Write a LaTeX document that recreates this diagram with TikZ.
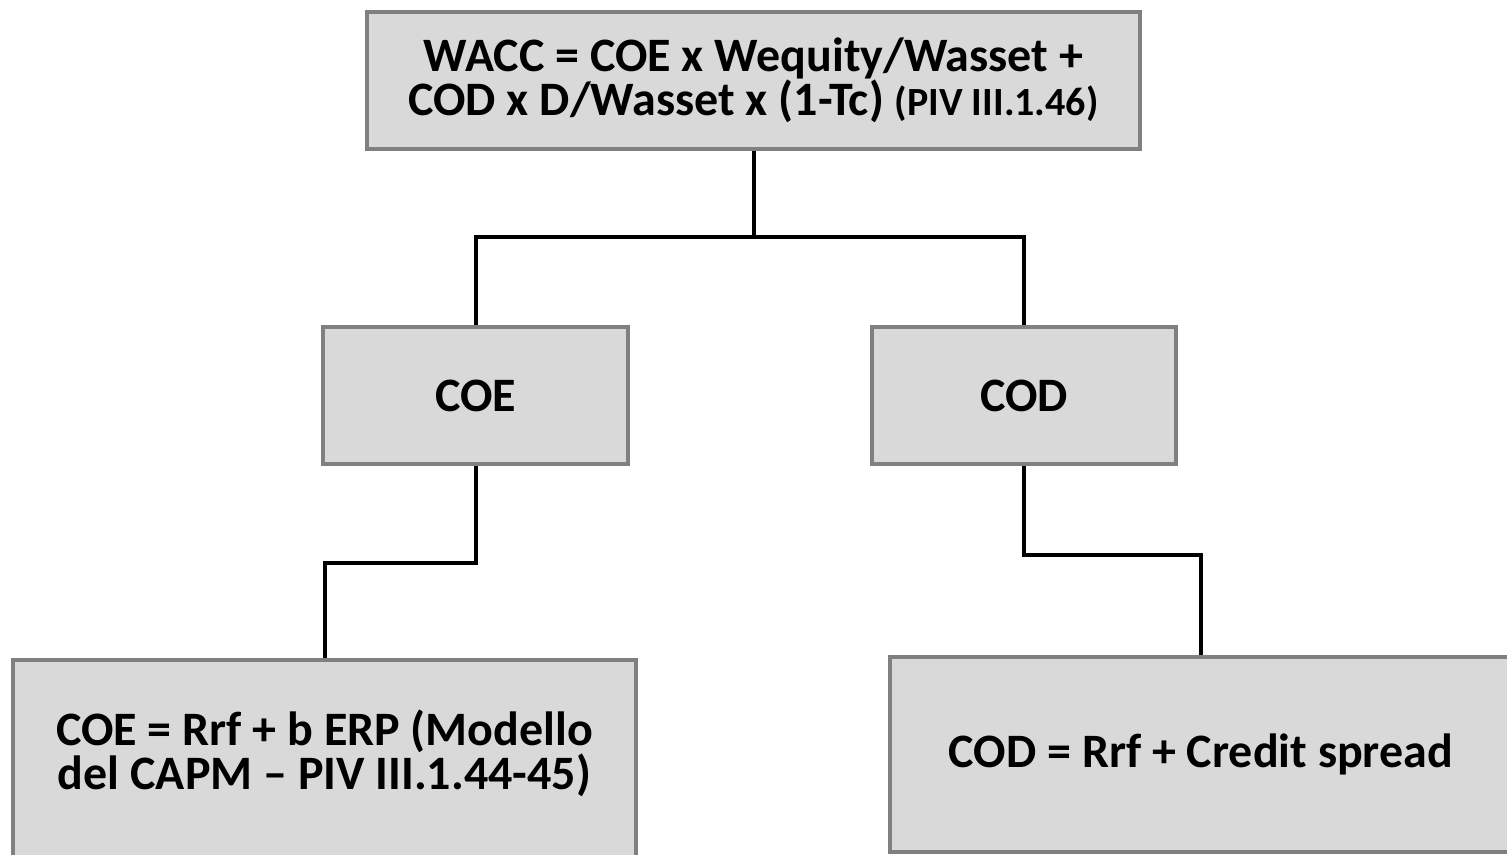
\documentclass[tikz,border=0pt]{standalone}
\usepackage{fontspec}
\setmainfont{Carlito}
\begin{document}
\begin{tikzpicture}[x=1pt,y=-1pt,
  box/.style={draw=boxedge,fill=boxfill,line width=4pt,rectangle,inner sep=0pt,
    align=center,font=\bfseries\fontsize{48}{42}\selectfont},
  link/.style={draw=black,line width=4pt}]
\definecolor{boxedge}{HTML}{808080}
\definecolor{boxfill}{HTML}{D9D9D9}
\useasboundingbox (0,0) rectangle (1507,854);
\clip (0,0) rectangle (1507,854);
% WACC formula
\node[box,minimum width=773pt,minimum height=137pt] (wacc) at (753.5,80)
  {WACC = COE x Wequity/Wasset +\\COD x D/Wasset x (1-Tc) {\fontsize{40}{42}\selectfont(PIV III.1.46)}};
% cost of equity and cost of debt
\node[box,minimum width=305pt,minimum height=137pt] (coe) at (475.5,395.5) {COE};
\node[box,minimum width=304pt,minimum height=137pt] (cod) at (1024,395.5) {COD};
% detail boxes
\node[box,minimum width=623pt,minimum height=205pt] (capm) at (324.5,762.5) {};
\node[align=center,font=\bfseries\fontsize{48}{41}\selectfont] (capmtext) at (324.5,753)
  {COE = Rrf + b ERP (Modello\\del CAPM -- PIV III.1.44-45)};
\node[box,minimum width=622pt,minimum height=195pt] (spread) at (1201,754.5) {COD = Rrf + Credit spread};
% connectors
\draw[link] (wacc.south) |- (coe.north |- 0,237) -- (coe.north);
\draw[link] (wacc.south) |- (cod.north |- 0,237) -- (cod.north);
\draw[link] (coe.south) |- (capm.north |- 0,563) -- (capm.north);
\draw[link] (cod.south) |- (spread.north |- 0,555) -- (spread.north);
\end{tikzpicture}
\end{document}
